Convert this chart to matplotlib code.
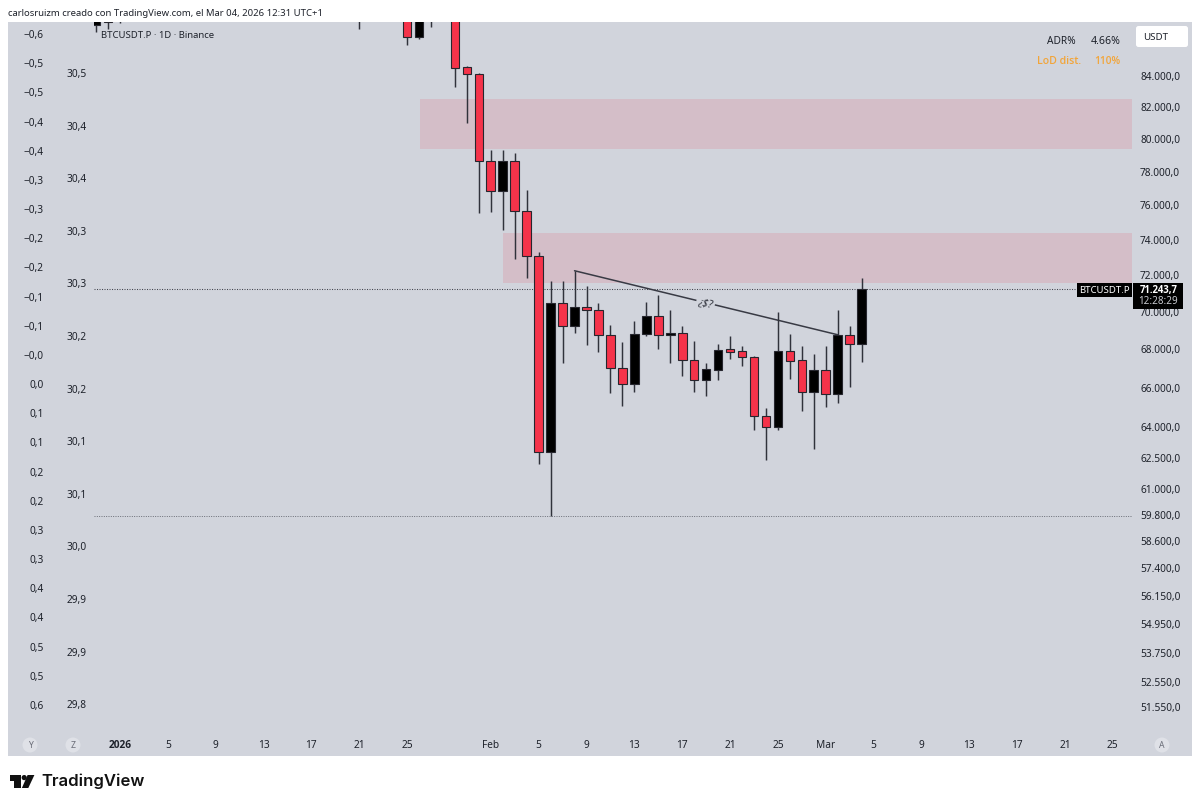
import matplotlib
matplotlib.use('Agg')
import matplotlib.pyplot as plt
from matplotlib.patches import Circle, FancyBboxPatch, Polygon, Rectangle
from matplotlib.ticker import NullLocator

# daily candles, day number counted from Jan 1 2026 (red = down, black = up)
days = [-2, -1, 0, 20, 24, 25, 26, 28, 29, 30, 31, 32, 33, 34, 35, 36, 37, 38, 39, 40, 41,
        42, 43, 44, 45, 46, 47, 48, 49, 50, 51, 52, 53, 54, 55, 56, 57, 58, 59, 60, 61, 62]
opens = [87400, 88200, 88500, 88300, 88400, 86595, 89500, 88500, 84566, 84150, 78680, 76874,
         78644, 75675, 73099, 62806, 70484, 69219, 70270, 70077, 68737, 67004, 66194, 68791,
         69771, 68737, 68823, 67432, 66364, 66916, 67986, 67880, 67571, 64574, 63994, 67912,
         67416, 65765, 66900, 65693, 68753, 68255]
highs = [88400, 88600, 89000, 88800, 89000, 88500, 90000, 89500, 84632, 84215, 79343, 79306,
         79125, 76916, 73288, 71650, 71690, 72246, 71411, 70452, 69251, 68378, 69487, 70538,
         70909, 70093, 69235, 68415, 67277, 68255, 68683, 68180, 67638, 64956, 69970, 68807,
         68147, 67726, 68147, 70093, 69219, 71856]
lows = [86880, 87110, 87530, 87110, 86040, 86460, 87250, 83307, 81000, 75519, 75635, 74534,
        72898, 71840, 62203, 59754, 67262, 68823, 68233, 67860, 65713, 65056, 65796, 68700,
        68019, 67241, 66570, 65796, 65590, 66400, 67468, 67122, 63845, 62395, 63845, 66436,
        64837, 62951, 65006, 65204, 66019, 67344]
closes = [88000, 87600, 87800, 87700, 86595, 88000, 88800, 84540, 84130, 78680, 76874, 78644,
          75658, 73099, 62806, 70484, 69235, 70254, 70077, 68737, 67004, 66194, 68807, 69771,
          68737, 68860, 67432, 66384, 66931, 67964, 67860, 67571, 64560, 63994, 67912, 67396,
          65765, 66900, 65693, 68753, 68255, 71243.7]

price_ticks = [84000, 82000, 80000, 78000, 76000, 74000, 72000, 70000, 68000, 66000, 64000,
               62500, 61000, 59800, 58600, 57400, 56150, 54950, 53750, 52550, 51550]
date_ticks = [0, 4, 8, 12, 16, 20, 24, 31, 35, 39, 43, 47, 51, 55, 59, 63, 67, 71, 75, 79, 83]
date_labels = ['2026', '5', '9', '13', '17', '21', '25', 'Feb', '5', '9', '13', '17', '21', '25',
               'Mar', '5', '9', '13', '17', '21', '25']

# the two unnamed overlay scales on the left
scale_a_ticks = [-0.6, -0.55, -0.5, -0.45, -0.4, -0.35, -0.3, -0.25, -0.2, -0.15, -0.1, -0.05,
                 0.0, 0.05, 0.1, 0.15, 0.2, 0.25, 0.3, 0.35, 0.4, 0.45, 0.5, 0.55]
scale_a_labels = ['−0,6', '−0,5', '−0,5', '−0,4', '−0,4', '−0,3', '−0,3', '−0,2', '−0,2', '−0,1',
                  '−0,1', '−0,0', '0,0', '0,1', '0,1', '0,2', '0,2', '0,3', '0,3', '0,4', '0,4',
                  '0,5', '0,5', '0,6']
scale_b_ticks = [30.5, 30.45, 30.4, 30.35, 30.3, 30.25, 30.2, 30.15, 30.1, 30.05, 30.0, 29.95, 29.9]
scale_b_labels = ['30,5', '30,4', '30,4', '30,3', '30,3', '30,2', '30,2', '30,1', '30,1', '30,0',
                  '29,9', '29,9', '29,8']

# supply zones: first day, low price, high price
zones = [(25.1, 79355, 82520), (32.0, 71578, 74400)]
# hand drawn line on the chart
line_days = [38, 60]
line_prices = [72246, 68753]

last_price = 71243.7
low_price = 59754

PANEL = '#d1d4dc'
ZONE = '#d4bec8'
RED = '#f5334a'
INK = '#1e222b'
FONT = 'Noto Sans'
W, H = 1200, 806

plt.rcParams['font.family'] = [FONT, 'DejaVu Sans']


def place(left, top, right, bottom):
    return [left / W, 1 - bottom / H, (right - left) / W, (bottom - top) / H]


fig = plt.figure(figsize=(W / 100, H / 100), dpi=100, facecolor='white')

# grey panel behind everything
panel = fig.add_axes(place(8, 22, 1192, 756), facecolor=PANEL)
panel.set_xticks([])
panel.set_yticks([])
for s in panel.spines.values():
    s.set_visible(False)

ax = fig.add_axes(place(94, 22, 1132, 733), facecolor='none')
ax.set_yscale('log')
ax.set_xlim(-2.17, 84.6)
ax.set_ylim(50515, 87585)
for s in ax.spines.values():
    s.set_visible(False)

for start, lo, hi in zones:
    ax.fill_between([start, 84.6], lo, hi, color=ZONE, lw=0, zorder=1)

ax.axhline(last_price, color='#44464f', lw=0.75, ls=(0, (1, 1.4)), zorder=2)
ax.axhline(low_price, color='#6a6d76', lw=0.7, ls=(0, (1, 1.4)), zorder=2)

ax.plot(line_days, line_prices, color='#383a44', lw=1.1, zorder=3, solid_capstyle='round')
ax.text(48.95, 70460, '¿$?', fontsize=7.5, style='italic', color='#33363f', rotation=-12,
        ha='center', va='center', zorder=4,
        bbox=dict(facecolor=PANEL, edgecolor='none', pad=1.5))

colors = [RED if c < o else 'black' for o, c in zip(opens, closes)]
ax.vlines(days, lows, highs, color='#30323b', lw=1.05, zorder=4)
bottoms = [min(o, c) for o, c in zip(opens, closes)]
heights = [abs(o - c) for o, c in zip(opens, closes)]
ax.bar(days, heights, bottom=bottoms, width=0.72, color=colors, edgecolor='#26262e',
       linewidth=0.8, zorder=5)

ax.yaxis.tick_right()
ax.set_yticks(price_ticks)
ax.set_yticklabels([f'{p:,.0f},0'.replace(',', '.', 1) for p in price_ticks])
ax.yaxis.set_minor_locator(NullLocator())
ax.tick_params(axis='y', length=0, pad=5.8, labelsize=7.3, labelcolor=INK)
ax.set_xticks(date_ticks)
ax.set_xticklabels(date_labels)
ax.tick_params(axis='x', length=0, pad=5, labelsize=7.3, labelcolor=INK)
ax.get_xticklabels()[0].set_fontfamily('Open Sans')
ax.get_xticklabels()[0].set_fontweight('bold')

# left scales, each one its own transparent axes
scale_a = fig.add_axes(ax.get_position(), facecolor='none', frameon=False)
scale_a.set_ylim(-0.6 + (733 - 34) / 29.17 * 0.05, -0.6 + (22 - 34) / 29.17 * 0.05)
scale_a.set_xticks([])
scale_a.set_yticks(scale_a_ticks)
scale_a.set_yticklabels(scale_a_labels)
scale_a.tick_params(axis='y', length=0, pad=36, labelsize=7.3, labelcolor=INK)

scale_b = fig.add_axes(ax.get_position(), facecolor='none', frameon=False)
scale_b.set_ylim(30.5 - (733 - 73) / 52.6 * 0.05, 30.5 + (73 - 22) / 52.6 * 0.05)
scale_b.set_xticks([])
scale_b.set_yticks(scale_b_ticks)
scale_b.set_yticklabels(scale_b_labels)
scale_b.tick_params(axis='y', length=0, pad=5, labelsize=7.3, labelcolor=INK)

# everything around the chart, placed in image pixels
top = fig.add_axes([0, 0, 1, 1], facecolor='none', frameon=False)
top.set_xlim(0, W)
top.set_ylim(H, 0)
top.set_xticks([])
top.set_yticks([])

top.text(8, 13.5, 'carlosruizm creado con TradingView.com, el Mar 04, 2026 12:31 UTC+1',
         fontsize=6.85, color=INK, va='center')
top.text(101, 35, 'BTCUSDT.P · 1D · Binance', fontsize=6.85, color=INK, va='center')

top.add_patch(FancyBboxPatch((1136, 26), 52, 21, boxstyle='round,pad=0,rounding_size=2.5',
                             fc='white', ec='none'))
top.text(1143, 38, 'USDT', fontsize=7, color=INK, va='center')
top.text(1047, 41, 'ADR%', fontsize=7.3, color=INK, va='center')
top.text(1091, 41, '4.66%', fontsize=7.6, color=INK, va='center')
top.text(1037, 61, 'LoD dist.', fontsize=7.6, family='Open Sans', weight='semibold',
         color='#f2a53a', va='center')
top.text(1094, 61, '110%', fontsize=7.3, family='Open Sans', weight='semibold',
         color='#f2a53a', va='center')

top.add_patch(Rectangle((1077, 283), 55, 13.5, fc='black', ec='none'))
top.text(1104.5, 290.3, 'BTCUSDT.P', fontsize=6.9, color='white', ha='center', va='center')
top.add_patch(Rectangle((1133, 283), 50, 25.5, fc='black', ec='none'))
top.text(1178, 290.3, '71.243,7', fontsize=6.9, family='Open Sans', color='white', weight='bold',
         ha='right', va='center')
top.text(1178, 302, '12:28:29', fontsize=7.1, color='#c8cad0', ha='right', va='center')

for cx, letter in [(30, 'Y'), (73, 'Z'), (1162, 'A')]:
    top.add_patch(Circle((cx, 745), 7.5, fc='#dfe1e7', ec='none'))
    top.text(cx, 745.5, letter, fontsize=6.2, color='#6a6d78', ha='center', va='center')

# TradingView logo
top.add_patch(Polygon([(10, 775), (20.7, 775), (20.7, 788), (14.4, 788), (14.4, 780.5), (10, 780.5)],
                      fc='#111111', ec='none'))
top.add_patch(Circle((24.2, 777.6), 2.6, fc='#111111', ec='none'))
top.add_patch(Polygon([(27.6, 775), (34.4, 775), (28.3, 788), (21.9, 788)], fc='#111111', ec='none'))
top.text(41.5, 781.5, 'TradingView', fontsize=12, family='Inter', weight='semibold', color='#111111',
         va='center')

fig.savefig('out.png', dpi=100)
